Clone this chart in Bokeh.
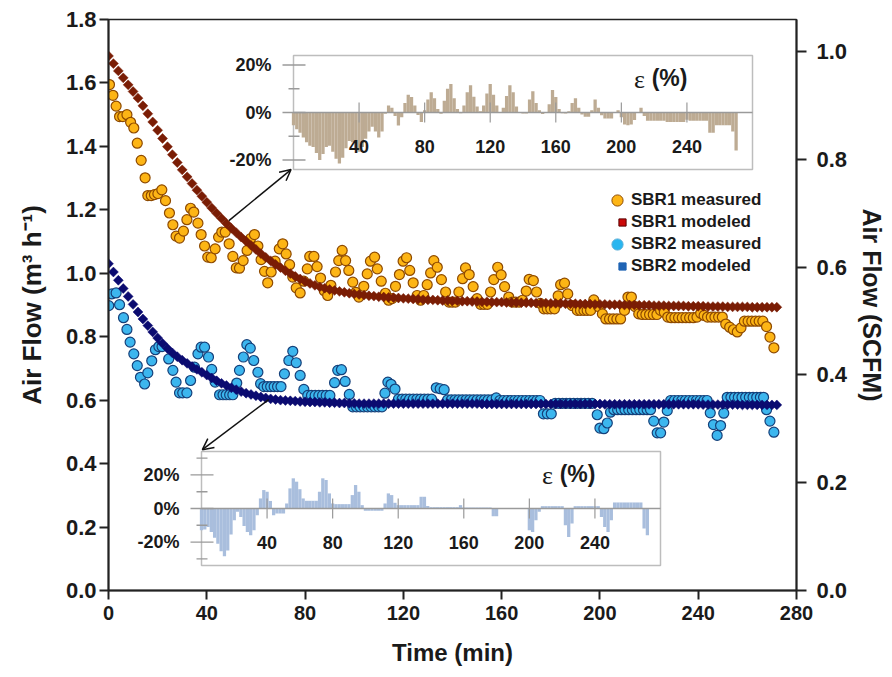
from bokeh.plotting import figure
from bokeh.models import (Range1d, LinearAxis, FixedTicker, PrintfTickFormatter,
                          Arrow, OpenHead, Legend, LegendItem)
from bokeh.core.properties import value
from bokeh.embed import file_html
from bokeh.resources import INLINE

# ---------------- data ----------------
# measured air flow (m3/h): (time min, value)
sbr1_measured = [
    (0.4, 1.595), (1.8, 1.561), (3.1, 1.527), (4.5, 1.494), (5.8, 1.494), (7.5, 1.500),
    (9.0, 1.476), (10.3, 1.458), (11.7, 1.410), (13.3, 1.356), (14.9, 1.301), (16.0, 1.245),
    (17.4, 1.245), (18.7, 1.248), (20.1, 1.251), (21.7, 1.263), (23.2, 1.229), (24.8, 1.190),
    (26.2, 1.153), (27.5, 1.117), (28.9, 1.111), (30.5, 1.133), (31.9, 1.169), (33.4, 1.205),
    (34.7, 1.193), (36.4, 1.158), (37.7, 1.122), (39.1, 1.086), (40.4, 1.051), (41.8, 1.049),
    (43.4, 1.077), (44.8, 1.114), (46.1, 1.130), (47.5, 1.130), (49.1, 1.093), (50.6, 1.053),
    (52.0, 1.017), (53.3, 1.016), (54.8, 1.040), (56.4, 1.072), (57.8, 1.109), (59.4, 1.122),
    (60.8, 1.086), (62.1, 1.043), (63.5, 1.006), (64.8, 0.970), (66.2, 1.004), (67.8, 1.038),
    (69.5, 1.077), (70.9, 1.093), (72.3, 1.061), (73.7, 1.027), (75.0, 0.988), (76.4, 0.954),
    (78.0, 0.938), (79.5, 0.975), (80.9, 1.014), (81.9, 1.053), (83.6, 1.053), (84.9, 1.021),
    (86.3, 0.985), (87.8, 0.945), (89.2, 0.930), (90.5, 0.962), (92.4, 1.004), (93.7, 1.040),
    (95.1, 1.072), (96.5, 1.040), (97.8, 1.009), (99.4, 0.972), (100.7, 0.940), (101.9, 0.925),
    (103.9, 0.959), (105.3, 0.998), (106.6, 1.038), (108.3, 1.051), (109.4, 1.014), (111.0, 0.975),
    (112.7, 0.937), (114.0, 0.915), (115.4, 0.920), (116.8, 0.959), (118.4, 0.996), (119.9, 1.038),
    (121.3, 1.049), (122.6, 1.009), (124.0, 0.970), (125.6, 0.930), (127.0, 0.915), (128.3, 0.930),
    (129.7, 0.964), (131.1, 1.001), (132.4, 1.040), (133.8, 1.019), (135.5, 0.980), (137.2, 0.941),
    (138.6, 0.909), (139.9, 0.909), (141.2, 0.909), (142.6, 0.941), (144.1, 0.983), (145.3, 1.017),
    (146.8, 0.996), (148.4, 0.958), (150.0, 0.920), (151.4, 0.902), (152.8, 0.902), (154.2, 0.902),
    (155.5, 0.941), (156.8, 0.980), (158.4, 1.019), (159.8, 0.995), (161.2, 0.958), (162.9, 0.925),
    (164.3, 0.909), (165.7, 0.909), (167.1, 0.909), (168.5, 0.915), (170.0, 0.944), (171.2, 0.981),
    (172.9, 0.977), (174.2, 0.941), (175.7, 0.905), (177.2, 0.888), (178.6, 0.888), (180.0, 0.888),
    (181.5, 0.888), (183.0, 0.929), (184.0, 0.964), (185.6, 0.969), (186.9, 0.935), (188.7, 0.898),
    (190.8, 0.883), (192.1, 0.883), (193.5, 0.883), (194.8, 0.883), (196.2, 0.883), (197.5, 0.916),
    (199.4, 0.895), (201.0, 0.872), (202.4, 0.856), (203.9, 0.856), (205.4, 0.856), (206.9, 0.856),
    (208.4, 0.856), (210.0, 0.883), (211.4, 0.925), (212.8, 0.925), (214.3, 0.895), (215.8, 0.872),
    (217.2, 0.870), (218.7, 0.870), (220.2, 0.870), (221.7, 0.870), (223.2, 0.870), (224.7, 0.883),
    (226.2, 0.877), (227.6, 0.862), (229.0, 0.860), (230.5, 0.860), (232.0, 0.860), (233.5, 0.860),
    (235.0, 0.860), (236.5, 0.860), (238.0, 0.860), (239.5, 0.862), (241.0, 0.874), (242.4, 0.867),
    (243.8, 0.862), (245.3, 0.862), (246.8, 0.862), (248.3, 0.862), (249.8, 0.862), (251.2, 0.840),
    (252.8, 0.830), (254.3, 0.822), (255.9, 0.815), (257.4, 0.828), (258.8, 0.849), (260.3, 0.849),
    (261.8, 0.849), (263.3, 0.849), (264.8, 0.849), (266.3, 0.849), (267.8, 0.832), (269.2, 0.799),
    (270.8, 0.765),
]

sbr2_measured = [
    (0.1, 0.898), (1.4, 0.935), (3.1, 0.938), (4.5, 0.901), (6.1, 0.860), (7.5, 0.823),
    (8.8, 0.783), (10.3, 0.746), (11.7, 0.709), (13.0, 0.672), (14.7, 0.651), (16.0, 0.686),
    (17.6, 0.724), (19.1, 0.759), (20.5, 0.769), (21.8, 0.769), (24.5, 0.730), (26.2, 0.694),
    (27.5, 0.657), (28.9, 0.623), (30.2, 0.623), (31.9, 0.623), (33.4, 0.662), (35.0, 0.704),
    (36.4, 0.746), (37.7, 0.767), (39.1, 0.767), (40.7, 0.736), (42.0, 0.697), (43.4, 0.657),
    (45.2, 0.617), (46.6, 0.617), (47.9, 0.617), (49.3, 0.617), (50.6, 0.617), (52.2, 0.654),
    (53.3, 0.694), (54.9, 0.736), (56.3, 0.775), (57.7, 0.764), (59.1, 0.725), (60.8, 0.688),
    (61.9, 0.652), (63.2, 0.643), (64.6, 0.643), (66.0, 0.643), (67.4, 0.643), (68.8, 0.643),
    (70.2, 0.643), (71.6, 0.683), (73.4, 0.725), (75.0, 0.754), (76.4, 0.718), (78.0, 0.678),
    (79.5, 0.634), (81.1, 0.615), (82.6, 0.615), (84.1, 0.615), (85.6, 0.615), (87.1, 0.615),
    (88.6, 0.615), (90.1, 0.615), (92.0, 0.655), (93.3, 0.694), (94.8, 0.696), (96.3, 0.659),
    (98.0, 0.618), (99.4, 0.579), (100.9, 0.579), (102.4, 0.579), (103.9, 0.579), (105.4, 0.579),
    (106.9, 0.579), (108.4, 0.579), (109.9, 0.579), (111.3, 0.579), (112.5, 0.622), (113.7, 0.657),
    (115.0, 0.650), (116.6, 0.635), (118.0, 0.603), (119.5, 0.603), (121.0, 0.603), (122.5, 0.603),
    (124.0, 0.603), (125.5, 0.603), (127.0, 0.603), (128.5, 0.603), (130.0, 0.603), (131.5, 0.603),
    (133.4, 0.639), (135.0, 0.636), (136.6, 0.633), (138.0, 0.601), (139.5, 0.601), (141.0, 0.601),
    (142.5, 0.601), (144.0, 0.601), (145.5, 0.601), (147.0, 0.601), (148.5, 0.601), (150.0, 0.601),
    (151.5, 0.601), (153.0, 0.601), (154.5, 0.601), (156.0, 0.601), (157.8, 0.607), (159.3, 0.599),
    (160.8, 0.599), (162.3, 0.599), (163.8, 0.599), (165.3, 0.599), (166.8, 0.599), (168.3, 0.599),
    (169.8, 0.599), (171.3, 0.599), (172.8, 0.599), (174.3, 0.599), (175.6, 0.599), (177.0, 0.557),
    (178.6, 0.557), (180.2, 0.557), (181.8, 0.590), (183.3, 0.590), (184.8, 0.590), (186.3, 0.590),
    (187.8, 0.590), (189.3, 0.590), (190.8, 0.590), (192.3, 0.590), (193.8, 0.590), (195.3, 0.590),
    (196.8, 0.590), (198.9, 0.554), (200.0, 0.512), (201.6, 0.510), (203.0, 0.528), (204.3, 0.562),
    (205.7, 0.570), (207.2, 0.570), (208.7, 0.570), (210.2, 0.570), (211.7, 0.570), (213.2, 0.570),
    (214.7, 0.570), (216.2, 0.570), (217.7, 0.570), (219.2, 0.570), (220.6, 0.570), (221.9, 0.534),
    (223.3, 0.497), (224.7, 0.497), (226.0, 0.531), (227.4, 0.567), (228.8, 0.599), (230.3, 0.599),
    (231.8, 0.599), (233.3, 0.599), (234.8, 0.599), (236.3, 0.599), (237.8, 0.599), (239.3, 0.599),
    (240.8, 0.599), (242.3, 0.599), (243.6, 0.599), (244.9, 0.560), (246.2, 0.523), (247.7, 0.489),
    (249.1, 0.520), (250.4, 0.559), (251.8, 0.609), (253.3, 0.609), (254.8, 0.609), (256.3, 0.609),
    (257.8, 0.609), (259.3, 0.609), (260.8, 0.609), (262.3, 0.609), (263.8, 0.609), (265.3, 0.609),
    (266.6, 0.609), (267.8, 0.570), (269.2, 0.534), (270.8, 0.499),
]

# modeled air flow (m3/h), one value every 2 min starting at t = 0
MODEL_STEP_MIN = 2
sbr1_modeled = [
    1.685, 1.661, 1.638, 1.616, 1.594, 1.573, 1.552, 1.528, 1.503, 1.477,
    1.451, 1.425, 1.399, 1.374, 1.349, 1.326, 1.304, 1.283, 1.262, 1.243,
    1.224, 1.206, 1.189, 1.173, 1.157, 1.142, 1.128, 1.114, 1.101, 1.088,
    1.075, 1.062, 1.050, 1.039, 1.028, 1.018, 1.008, 0.999, 0.990, 0.982,
    0.974, 0.968, 0.962, 0.957, 0.953, 0.949, 0.946, 0.943, 0.940, 0.937,
    0.935, 0.933, 0.931, 0.929, 0.928, 0.926, 0.925, 0.924, 0.923, 0.922,
    0.921, 0.920, 0.919, 0.918, 0.917, 0.916, 0.916, 0.915, 0.914, 0.914,
    0.913, 0.913, 0.912, 0.912, 0.911, 0.911, 0.910, 0.910, 0.909, 0.909,
    0.909, 0.908, 0.908, 0.908, 0.907, 0.907, 0.907, 0.906, 0.906, 0.906,
    0.905, 0.905, 0.905, 0.904, 0.904, 0.904, 0.903, 0.903, 0.903, 0.902,
    0.902, 0.902, 0.901, 0.901, 0.901, 0.900, 0.900, 0.900, 0.899, 0.899,
    0.899, 0.898, 0.898, 0.898, 0.897, 0.897, 0.897, 0.897, 0.896, 0.896,
    0.896, 0.896, 0.895, 0.895, 0.895, 0.895, 0.894, 0.894, 0.894, 0.894,
    0.894, 0.893, 0.893, 0.893, 0.893, 0.893, 0.893,
]
sbr2_modeled = [
    1.030, 1.004, 0.978, 0.952, 0.927, 0.902, 0.878, 0.856, 0.835, 0.815,
    0.796, 0.779, 0.763, 0.749, 0.737, 0.726, 0.716, 0.706, 0.697, 0.688,
    0.679, 0.670, 0.661, 0.653, 0.646, 0.639, 0.633, 0.627, 0.622, 0.618,
    0.614, 0.610, 0.607, 0.604, 0.602, 0.600, 0.599, 0.598, 0.597, 0.596,
    0.595, 0.594, 0.594, 0.593, 0.593, 0.592, 0.592, 0.591, 0.591, 0.590,
    0.590, 0.589, 0.589, 0.589, 0.589, 0.589, 0.589, 0.589, 0.589, 0.589,
    0.589, 0.589, 0.589, 0.589, 0.589, 0.589, 0.589, 0.589, 0.589, 0.589,
    0.589, 0.589, 0.589, 0.589, 0.589, 0.589, 0.588, 0.588, 0.588, 0.588,
    0.588, 0.588, 0.588, 0.588, 0.588, 0.588, 0.588, 0.588, 0.588, 0.588,
    0.588, 0.588, 0.588, 0.588, 0.588, 0.588, 0.588, 0.588, 0.588, 0.588,
    0.588, 0.587, 0.587, 0.587, 0.587, 0.587, 0.587, 0.587, 0.587, 0.587,
    0.587, 0.587, 0.587, 0.587, 0.587, 0.587, 0.587, 0.587, 0.587, 0.587,
    0.587, 0.586, 0.586, 0.586, 0.586, 0.586, 0.586, 0.586, 0.586, 0.585,
    0.585, 0.585, 0.585, 0.585, 0.585, 0.585, 0.585,
]

# relative error of the model (%), one bar every 2 min starting at t = 0
ERR_STEP_MIN = 2
sbr1_error_pct = [
    -5.4, -7.0, -8.5, -10.5, -12.5, -14.0, -14.5, -17.0, -20.0, -17.5,
    -14.5, -14.0, -16.5, -19.5, -21.5, -19.0, -15.0, -12.0, -12.5, -15.5,
    -16.5, -14.5, -11.0, -8.0, -6.0, -8.0, -10.5, -8.0, -0.5, 3.0,
    2.0, -1.5, -5.5, -2.0, 4.0, 7.5, 6.5, 3.0, -1.0, -4.0,
    1.0, 5.5, 8.5, 6.0, 1.5, -0.5, 5.0, 10.0, 12.0, 6.0,
    1.5, -0.3, 3.0, 8.5, 11.5, 6.6, 2.5, 0.5, 3.0, 8.0,
    12.0, 7.5, 3.0, 0.0, 2.0, 7.0, 11.5, 8.5, 2.5, 0.0,
    -0.4, -0.4, 5.5, 9.0, 4.0, 1.0, -0.6, 0.0, 3.5, 9.5,
    6.5, 1.5, -0.3, -0.4, 0.5, 4.0, 6.0, 2.0, -0.8, -1.8,
    -1.8, 1.0, 5.5, 2.0, -1.2, -2.5, -2.5, -2.5, 0.0, 1.0,
    -2.0, -5.0, -5.4, -5.0, -3.2, 0.0, 2.0, -1.5, -3.5, -3.5,
    -3.5, -3.5, -3.5, -3.5, -4.0, -4.0, -4.0, -4.0, -4.0, -4.0,
    -3.0, -3.5, -3.5, -3.5, -3.5, -3.5, -3.5, -8.5, -8.5, -5.4,
    -5.4, -5.4, -5.4, -5.4, -8.0, -16.0,
]
sbr2_error_pct = [
    -13.0, -12.5, -11.0, -14.0, -17.5, -21.0, -25.5, -28.5, -25.0, -15.5,
    -7.0, -2.0, -5.0, -10.5, -14.0, -16.0, -13.0, -4.0, 6.0, 11.0,
    10.0, 4.5, -4.0, -3.0, -3.0, -3.0, 3.0, 12.0, 18.0, 16.0,
    11.5, 6.0, 4.6, 4.6, 4.6, 4.6, 10.0, 18.0, 17.0, 9.0,
    3.0, 2.6, 2.6, 2.6, 2.6, 2.6, 8.0, 14.0, 10.0, 2.0,
    -1.4, -1.4, -1.4, -1.4, -1.4, -1.4, 3.0, 9.0, 8.0, 3.4,
    2.0, 2.0, 2.0, 2.0, 2.0, 2.0, 2.0, 7.0, 7.0, 1.5,
    0.8, 0.8, 0.8, 0.8, 0.8, 0.8, 0.8, 0.8, 0.8, 2.0,
    0.6, 0.6, 0.6, 0.6, 0.6, 0.6, 0.6, 0.6, 0.6, -4.6,
    -4.6, 0.2, 0.2, 0.2, 0.2, 0.2, 0.2, 0.2, 0.2, 0.2,
    -13.0, -14.0, -7.0, -2.0, 1.4, 1.4, 1.4, 1.4, 1.4, 1.4,
    1.4, -10.0, -17.0, -9.0, 1.4, 1.4, 1.4, 1.4, 1.4, 1.4,
    1.4, 1.4, -5.0, -11.0, -14.0, -7.0, 3.6, 3.6, 3.6, 3.6,
    3.6, 3.6, 3.6, 3.6, 3.6, -12.0, -16.0,
]

x_ticks = [0, 40, 80, 120, 160, 200, 240, 280]
y_ticks = [0.0, 0.2, 0.4, 0.6, 0.8, 1.0, 1.2, 1.4, 1.6, 1.8]
scfm_ticks = [0.0, 0.2, 0.4, 0.6, 0.8, 1.0]
inset_x_ticks = [40, 80, 120, 160, 200, 240]
inset1_y_major = [20, 0, -20]
inset1_y_minor = [10, -10]
inset2_y_major = [20, 0, -20]
inset2_y_minor = [30, 10, -10, -30]
M3H_PER_SCFM = 1.699

# ---------------- styling ----------------
W, H = 892, 677
FRAME_L, FRAME_R, FRAME_T, FRAME_B = 108, 796, 19, 590
ARIAL = "Liberation Sans"
SERIF = "Liberation Serif"
INK = "#1a1a1a"

SBR1_MEAS_FILL, SBR1_MEAS_LINE = "#FDB515", "#8E4A00"
SBR2_MEAS_FILL, SBR2_MEAS_LINE = "#3CB6EE", "#15407A"
SBR1_MOD = "#7A1D05"
SBR2_MOD = "#0B0B70"
SBR1_ERR = "#BDAB93"
SBR2_ERR = "#A9BEDD"

p = figure(width=W, height=H, output_backend="svg", toolbar_location=None,
           x_range=Range1d(0, 280), y_range=Range1d(0, 1.8),
           min_border_left=FRAME_L, min_border_right=W - FRAME_R,
           min_border_top=FRAME_T, min_border_bottom=H - FRAME_B)
p.grid.visible = False
p.outline_line_color = "#222222"
p.outline_line_width = 1.5


def style_axis(ax, tick_size, title_size, label_standoff, title_standoff, tick_out=9):
    ax.axis_line_width = 2
    ax.axis_line_color = "#222222"
    ax.major_tick_line_width = 2
    ax.major_tick_line_color = "#222222"
    ax.major_tick_out = tick_out
    ax.major_tick_in = 0
    ax.minor_tick_line_color = None
    ax.major_label_text_font = ARIAL
    ax.major_label_text_font_style = "bold"
    ax.major_label_text_font_size = tick_size
    ax.major_label_text_color = INK
    ax.major_label_standoff = label_standoff
    ax.axis_label_text_font = ARIAL
    ax.axis_label_text_font_style = "bold"
    ax.axis_label_text_font_size = title_size
    ax.axis_label_text_color = INK
    ax.axis_label_standoff = title_standoff


xax = p.xaxis[0]
xax.ticker = FixedTicker(ticks=x_ticks)
xax.axis_label = "Time (min)"
style_axis(xax, "20px", "24px", 6, 16)

yax = p.yaxis[0]
yax.ticker = FixedTicker(ticks=y_ticks)
yax.formatter = PrintfTickFormatter(format="%.1f")
yax.axis_label = "Air Flow (m³ h⁻¹)"
style_axis(yax, "22px", "26px", 3, 16)

p.extra_y_ranges = {"scfm": Range1d(0, 1.8 / M3H_PER_SCFM)}
rax = LinearAxis(y_range_name="scfm", ticker=FixedTicker(ticks=scfm_ticks),
                 formatter=PrintfTickFormatter(format="%.1f"), axis_label="Air Flow (SCFM)")
style_axis(rax, "22px", "25px", 10, 8, tick_out=10)
p.add_layout(rax, "right")

# ---------------- main series ----------------
s1t = [t for t, _ in sbr1_measured]
s1v = [v for _, v in sbr1_measured]
s2t = [t for t, _ in sbr2_measured]
s2v = [v for _, v in sbr2_measured]
m1t = [MODEL_STEP_MIN * i for i in range(len(sbr1_modeled))]
m2t = [MODEL_STEP_MIN * i for i in range(len(sbr2_modeled))]

p.scatter(x=s1t, y=s1v, marker="circle", size=10, fill_color=SBR1_MEAS_FILL,
          line_color=SBR1_MEAS_LINE, line_width=1.2)
p.scatter(x=s2t, y=s2v, marker="circle", size=10, fill_color=SBR2_MEAS_FILL,
          line_color=SBR2_MEAS_LINE, line_width=1.2)
p.scatter(x=m1t, y=sbr1_modeled, marker="square", size=7, angle=0.785398,
          fill_color=SBR1_MOD, line_color=SBR1_MOD, line_width=0.5)
p.scatter(x=m2t, y=sbr2_modeled, marker="square", size=7, angle=0.785398,
          fill_color=SBR2_MOD, line_color=SBR2_MOD, line_width=0.5)


# ---------------- insets (drawn in their own ranges) ----------------
def inset_ranges(box, xlim, ylim):
    l, r, t, b = box
    sx = (xlim[1] - xlim[0]) / (r - l)
    sy = (ylim[1] - ylim[0]) / (b - t)
    xr = Range1d(xlim[0] - (l - FRAME_L) * sx, xlim[1] + (FRAME_R - r) * sx)
    yr = Range1d(ylim[0] - (FRAME_B - b) * sy, ylim[1] + (t - FRAME_T) * sy)
    return xr, yr, sx, sy


def draw_inset(name, box, ylim, err, color, y_major, y_minor):
    xlim = (0, 280)
    xr, yr, sx, sy = inset_ranges(box, xlim, ylim)
    xn, yn = name + "x", name + "y"
    p.extra_x_ranges[xn] = xr
    p.extra_y_ranges[yn] = yr
    kw = dict(x_range_name=xn, y_range_name=yn)
    p.quad(left=[xlim[0]], right=[xlim[1]], bottom=[ylim[0]], top=[ylim[1]],
           fill_color="white", line_color="#bdbdbd", line_width=1.5, **kw)
    et = [ERR_STEP_MIN * i for i in range(len(err))]
    p.vbar(x=et, top=err, bottom=0, width=ERR_STEP_MIN, fill_color=color,
           line_color=None, **kw)
    gray = "#9a9a9a"
    # zero line
    p.segment(x0=[xlim[0]], y0=[0], x1=[xlim[1]], y1=[0], line_color=gray, line_width=1.3, **kw)
    # x tick marks across the zero line
    n = len(inset_x_ticks)
    p.segment(x0=inset_x_ticks, y0=[-10 * sy] * n, x1=inset_x_ticks, y1=[10 * sy] * n,
              line_color=gray, line_width=1.2, **kw)
    # y axis ticks
    p.segment(x0=[-11 * sx] * len(y_major), y0=y_major, x1=[12 * sx] * len(y_major), y1=y_major,
              line_color=gray, line_width=1.3, **kw)
    p.segment(x0=[-5 * sx] * len(y_minor), y0=y_minor, x1=[6 * sx] * len(y_minor), y1=y_minor,
              line_color=gray, line_width=1.3, **kw)
    # labels
    p.text(x=[-22 * sx] * len(y_major), y=y_major, text=["%d%%" % v for v in y_major],
           text_font=value(ARIAL), text_font_style="bold", text_font_size="18px",
           text_color=INK, text_align="right", text_baseline="middle", **kw)
    p.text(x=inset_x_ticks, y=[-34 * sy] * n, text=[str(v) for v in inset_x_ticks],
           text_font=value(ARIAL), text_font_style="bold", text_font_size="18px",
           text_color=INK, text_align="center", text_baseline="middle", **kw)
    p.text(x=[211], y=[33 * sy], text=["ε"], text_font=value(SERIF),
           text_font_size="26px", text_color=INK, text_align="center",
           text_baseline="middle", **kw)
    p.text(x=[218.5], y=[35 * sy], text=["(%)"], text_font=value(ARIAL),
           text_font_style="bold", text_font_size="23px", text_color=INK,
           text_align="left", text_baseline="middle", **kw)


draw_inset("in1", (293, 752, 55, 169), (-24, 24), sbr1_error_pct, SBR1_ERR,
           inset1_y_major, inset1_y_minor)
draw_inset("in2", (201, 660, 451, 565), (-34, 34), sbr2_error_pct, SBR2_ERR,
           inset2_y_major, inset2_y_minor)

# arrows from the modeled curves to the insets (main-axis coordinates)
p.add_layout(Arrow(end=OpenHead(size=11, line_width=1.5, line_color="#111111"),
                   x_start=49.0, y_start=1.166, x_end=74.3, y_end=1.327,
                   line_width=1.5, line_color="#111111"))
p.add_layout(Arrow(end=OpenHead(size=11, line_width=1.5, line_color="#111111"),
                   x_start=65.2, y_start=0.602, x_end=38.2, y_end=0.444,
                   line_width=1.5, line_color="#111111"))

# ---------------- legend (one Legend per row so marker sizes can differ) ----------------
LABEL_X = 523   # frame px where label text starts
leg_specs = [
    ("SBR1 measured", s1t, s1v, "circle", SBR1_MEAS_FILL, SBR1_MEAS_LINE, 28, 200),
    ("SBR1 modeled", m1t, sbr1_modeled, "square", "#CC0A0A", "#5A0000", 18, 222),
    ("SBR2 measured", s2t, s2v, "circle", "#29B6F0", "#5AAFD8", 28, 244),
    ("SBR2 modeled", m2t, sbr2_modeled, "square", "#1F64B4", "#1F64B4", 18, 266),
]
for label, xs, ys, marker, fill, line, gbox, cy in leg_specs:
    r = p.scatter(x=xs, y=ys, marker=marker, fill_color=fill, line_color=line,
                  line_width=1, visible=False)
    h = max(gbox, 20)
    gx0 = LABEL_X - gbox
    leg = Legend(items=[LegendItem(label=value(label), renderers=[r])],
                 location=(gx0, FRAME_B - (cy + h / 2)),
                 orientation="vertical", glyph_width=gbox, glyph_height=gbox,
                 label_standoff=0, label_height=20, spacing=0,
                 padding=0, margin=0, border_line_alpha=0, background_fill_alpha=0,
                 label_text_font=ARIAL, label_text_font_style="bold",
                 label_text_font_size="17px", label_text_color=INK)
    p.add_layout(leg)

open("out.html", "w").write(file_html(p, INLINE))
